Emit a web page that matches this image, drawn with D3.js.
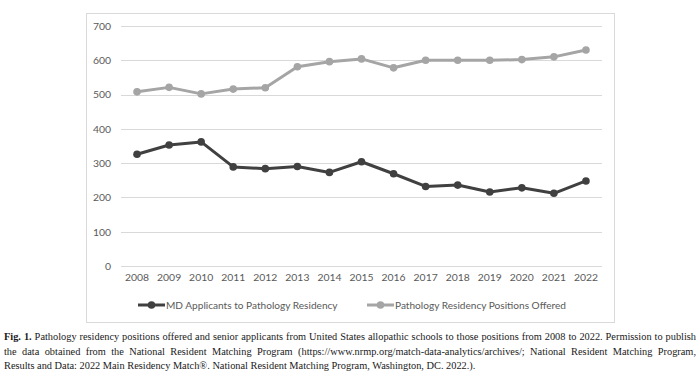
<!DOCTYPE html>
<html><head><meta charset="utf-8">
<script src="https://cdn.jsdelivr.net/npm/d3@7"></script>
<style>
body{margin:0;background:#fff;}
svg{display:block;}
</style></head>
<body>
<svg id="c" width="700" height="377"></svg>
<script>
const years = ["2008","2009","2010","2011","2012","2013","2014","2015","2016","2017","2018","2019","2020","2021","2022"];
const applicants = [326,353,362,289,284,290,273,304,269,232,236,216,228,212,248];
const positions = [508,521,502,516,520,581,596,604,578,600,600,600,602,610,630];
const yTicks = [0,100,200,300,400,500,600,700];
const seriesNames = ["MD Applicants to Pathology Residency","Pathology Residency Positions Offered"];
const seriesColors = ["#404040","#a5a5a5"];
const captionLines = [
 ["Fig. 1.", " Pathology residency positions offered and senior applicants from United States allopathic schools to those positions from 2008 to 2022. Permission to publish"],
 ["", "the data obtained from the National Resident Matching Program (https://www.nrmp.org/match-data-analytics/archives/; National Resident Matching Program,"],
 ["", "Results and Data: 2022 Main Residency Match®. National Resident Matching Program, Washington, DC. 2022.)."]
];

const svg = d3.select("#c");
const chartFont = "Lato, 'Open Sans', sans-serif";

svg.append("rect").attr("x",86.5).attr("y",13.5).attr("width",528).attr("height",309)
  .attr("fill","#fff").attr("stroke","#d9d9d9").attr("stroke-width",1);

const x = d3.scaleBand().domain(years).range([121,602]);
const y = d3.scaleLinear().domain([0,700]).range([266,26]);

svg.append("g").selectAll("line").data(yTicks).join("line")
  .attr("x1",121).attr("x2",602)
  .attr("y1",d=>Math.round(y(d))+0.5).attr("y2",d=>Math.round(y(d))+0.5)
  .attr("stroke","#d9d9d9").attr("stroke-width",1);

const yAxis = d3.axisLeft(y).tickValues(yTicks).tickSize(0).tickPadding(10);
const gy = svg.append("g").attr("transform","translate(121,0)").call(yAxis);
gy.select(".domain").remove();
gy.selectAll("text").attr("fill","#595959").style("font-family",chartFont).style("font-size","10.4px");

const xAxis = d3.axisBottom(x).tickSize(0).tickPadding(8);
const gx = svg.append("g").attr("transform","translate(0,266)").call(xAxis);
gx.select(".domain").remove();
gx.selectAll("text").attr("fill","#595959").style("font-family",chartFont).style("font-size","10.4px");

const cx = d => x(d) + x.bandwidth()/2;
const line = d3.line().x((d,i)=>cx(years[i])).y(d=>y(d));

[positions, applicants].forEach((vals,k)=>{
  const col = k===0 ? seriesColors[1] : seriesColors[0];
  svg.append("path").datum(vals).attr("d",line).attr("fill","none")
    .attr("stroke",col).attr("stroke-width",3).attr("stroke-linejoin","round");
  svg.append("g").selectAll("circle").data(vals).join("circle")
    .attr("cx",(d,i)=>cx(years[i])).attr("cy",d=>y(d)).attr("r",3.8).attr("fill",col);
});

const legX = [138,367];
seriesNames.forEach((n,i)=>{
  const g = svg.append("g").attr("transform",`translate(${legX[i]},305)`);
  g.append("line").attr("x1",0).attr("x2",27).attr("y1",0).attr("y2",0)
    .attr("stroke",seriesColors[i]).attr("stroke-width",3);
  g.append("circle").attr("cx",13.5).attr("cy",0).attr("r",3.8).attr("fill",seriesColors[i]);
  g.append("text").attr("x",28).attr("y",3.7).text(n).attr("fill","#595959")
    .style("font-family",chartFont).style("font-size","10.1px");
});

// caption: pick font size so first line fits naturally, then justify
const capY = [340,355,369];
const capX0 = 4, capX1 = 696;
const capFont = "'Liberation Serif', 'DejaVu Serif', serif";
const probe = svg.append("text").style("font-family",capFont).style("font-size","10px");
probe.append("tspan").style("font-weight","bold").text(captionLines[0][0]);
probe.append("tspan").text(captionLines[0][1]);
const w10 = probe.node().getComputedTextLength();
probe.remove();
const capSize = 10 * 684 / w10;
captionLines.forEach((parts,i)=>{
  const t = svg.append("text").attr("x",capX0).attr("y",capY[i])
    .style("font-family",capFont).style("font-size",capSize+"px").attr("fill","#1a1a1a");
  if (parts[0]) t.append("tspan").style("font-weight","bold").text(parts[0]);
  t.append("tspan").text(parts[1]);
  if (i < captionLines.length-1) {
    const w = t.node().getComputedTextLength();
    const spaces = (parts[0]+parts[1]).split(" ").length-1;
    t.attr("word-spacing", ((capX1-capX0)-w)/spaces);
  }
});
</script>
</body></html>
